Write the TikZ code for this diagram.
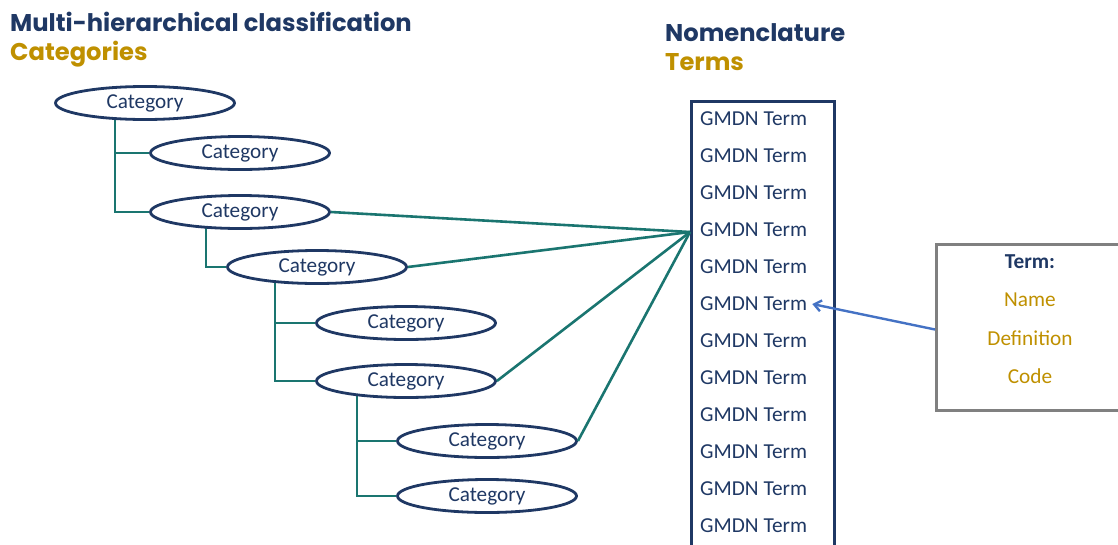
\documentclass[tikz,border=0pt]{standalone}
\usepackage{fontspec}
\setmainfont{Carlito}
\newfontfamily\titlefont{Poppins}
\usetikzlibrary{shapes.geometric,arrows.meta,backgrounds}
\definecolor{dblue}{RGB}{31,56,100}
\definecolor{gold}{RGB}{191,144,0}
\definecolor{teal}{RGB}{26,117,112}
\definecolor{boxgray}{RGB}{128,128,128}
\definecolor{arrblue}{RGB}{68,114,196}
\begin{document}
\begin{tikzpicture}[x=1pt,y=-1pt,
  cat/.style={ellipse, draw=dblue, fill=white, line width=2.8pt, minimum width=179pt, minimum height=33pt, inner sep=0pt, font=\fontsize{21.2}{23}\selectfont, text=dblue},
  treeline/.style={draw=teal, line width=2.6pt},
  term/.style={anchor=west, font=\fontsize{21.3}{23}\selectfont, text=dblue, inner sep=2pt},
  ttl/.style={anchor=base west, font=\titlefont\bfseries\fontsize{24.2}{26}\selectfont, inner sep=0pt},
  deftxt/.style={font=\fontsize{21.3}{23}\selectfont, text=gold}]
\useasboundingbox (0,0) rectangle (1118,544);
\clip (0,0) rectangle (1118,544);
% titles
\node[ttl, text=dblue] (t1) at (10,31) {Multi-hierarchical classification};
\node[ttl, text=gold] (t2) at (10,60) {Categories};
\node[ttl, text=dblue] (t3) at (665,41) {Nomenclature};
\node[ttl, text=gold] (t4) at (665,70) {Terms};
% categories
\node[cat] (c1) at (145,103) {Category};
\node[cat] (c2) at (240,153) {Category};
\node[cat] (c3) at (240,212) {Category};
\node[cat] (c4) at (317,267) {Category};
\node[cat] (c5) at (406,323) {Category};
\node[cat] (c6) at (406,381) {Category};
\node[cat] (c7) at (487,441) {Category};
\node[cat] (c8) at (487,496) {Category};
% term box
\node[draw=dblue, line width=3.2pt, minimum width=143pt, minimum height=480pt, anchor=north west, inner sep=0pt] (tbox) at (690,100) {};
\coordinate (hub) at (690,232);
\foreach \i/\y in {1/119,2/156,3/193,4/230,5/267,6/304,7/341,8/378,9/415,10/452,11/489,12/526}
  \node[term] (g\i) at (698,\y) {GMDN Term};
% definition box
\node[draw=boxgray, line width=3pt, minimum width=200pt, minimum height=166pt, anchor=north west, inner sep=0pt] (tdef) at (935,243) {};
\node[font=\bfseries\fontsize{21.3}{23}\selectfont, text=dblue] (d0) at (1030,262) {Term:};
\node[deftxt] (d1) at (1030,300) {Name};
\node[deftxt] (d2) at (1030,338) {Definition};
\node[deftxt] (d3) at (1030,376) {Code};
\begin{scope}[on background layer]
  \draw[treeline] ([xshift=-30pt]c1.center) |- (c2.west);
  \draw[treeline] ([xshift=-30pt]c1.center) |- (c3.west);
  \draw[treeline] ([xshift=-34pt]c3.center) |- (c4.west);
  \draw[treeline] ([xshift=-42pt]c4.center) |- (c5.west);
  \draw[treeline] ([xshift=-42pt]c4.center) |- (c6.west);
  \draw[treeline] ([xshift=-49pt]c6.center) |- (c7.west);
  \draw[treeline] ([xshift=-49pt]c6.center) |- (c8.west);
\end{scope}
\draw[treeline] (c3.east) -- (hub);
\draw[treeline] (c4.east) -- (hub);
\draw[treeline] (c6.east) -- (hub);
\draw[treeline] (c7.east) -- (hub);
\draw[draw=arrblue, line width=2.4pt, -{Straight Barb[length=7pt,width=11pt]}] ([yshift=-2pt]tdef.west) -- ([xshift=3pt]g6.east);
\end{tikzpicture}
\end{document}
